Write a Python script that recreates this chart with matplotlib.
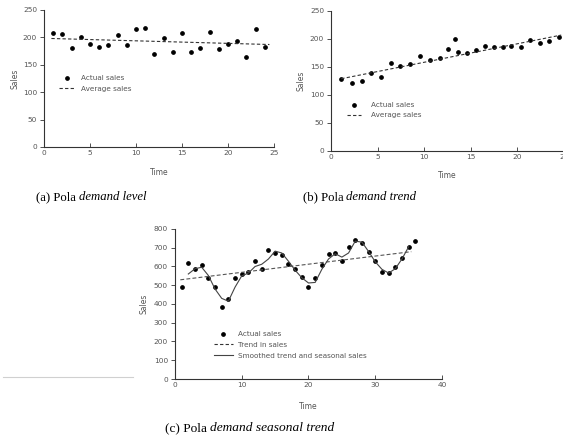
import numpy as np
import matplotlib.pyplot as plt
from matplotlib.lines import Line2D

# (a) demand level
t_a = np.arange(1, 25)
sales_a = [208, 206, 180, 201, 188, 183, 186, 204, 187, 215, 218, 169,
           198, 173, 208, 173, 180, 210, 178, 188, 194, 164, 215, 183]
avg_a_t = [0.8, 24.5]
avg_a = [198, 187]

# (b) demand trend
t_b = [1.1, 2.3, 3.3, 4.3, 5.4, 6.4, 7.4, 8.5, 9.6, 10.6, 11.7, 12.6, 13.3,
       13.6, 14.6, 15.6, 16.5, 17.5, 18.5, 19.3, 20.4, 21.4, 22.4, 23.4, 24.5]
sales_b = [128, 122, 125, 139, 133, 158, 152, 155, 170, 162, 166, 182, 200,
           176, 175, 181, 188, 185, 186, 187, 185, 198, 192, 196, 203]
avg_b_t = [1.1, 24.7]
avg_b = [129, 207]

# (c) seasonal trend
t_c = np.arange(1, 37)
sales_c = [493, 619, 587, 608, 537, 490, 385, 424, 537, 559, 568, 631,
           587, 688, 672, 663, 614, 589, 545, 488, 537, 608, 667, 674,
           630, 706, 741, 726, 678, 628, 573, 564, 598, 646, 702, 738]
trend_c_t = [0.8, 35.4]
trend_c = [529, 679]
smooth_t = np.arange(2, 36)
smooth_c = [560, 588, 596, 552, 480, 430, 415, 490, 550, 565, 600, 612,
            640, 682, 672, 628, 580, 540, 512, 515, 585, 640, 668, 650,
            672, 735, 730, 680, 625, 585, 565, 588, 640, 705]

TICK = '#555555'

fig = plt.figure(figsize=(5.63, 4.38), dpi=100)


def style_axes(ax, xlim, ylim, xticks, yticks, sales_x, time_y):
    ax.set_xlim(*xlim)
    ax.set_ylim(*ylim)
    ax.set_xticks(xticks)
    ax.set_yticks(yticks)
    for s in ['top', 'right']:
        ax.spines[s].set_visible(False)
    for s in ['left', 'bottom']:
        ax.spines[s].set_color('#333333')
        ax.spines[s].set_linewidth(0.8)
    ax.tick_params(axis='y', direction='out', length=3, width=0.6,
                   colors='#333333', labelcolor=TICK, labelsize=5.3, pad=2)
    ax.tick_params(axis='x', direction='in', length=3, width=0.6,
                   colors='#333333', labelcolor=TICK, labelsize=5.3, pad=2)
    ax.set_ylabel('Sales', fontsize=5.5, color=TICK)
    ax.set_xlabel('Time', fontsize=5.5, color=TICK)
    ax.yaxis.set_label_coords(sales_x, 0.5)
    ax.xaxis.set_label_coords(0.5, time_y)
    ax.patch.set_alpha(0)


def add_legend(ax, handles, labels, anchor, hlen, tpad, spacing):
    ax.legend(handles, labels, loc='upper left', bbox_to_anchor=anchor,
              frameon=False, fontsize=5.2, labelcolor=TICK, borderpad=0,
              borderaxespad=0, handlelength=hlen, handletextpad=tpad,
              labelspacing=spacing)


def caption(x, y, plain, italic, size):
    t = fig.text(x / 563, 1 - y / 438, plain, family='Liberation Serif',
                 fontsize=size, va='center', ha='left')
    fig.canvas.draw()
    bb = t.get_window_extent()
    fig.text(bb.x1 / fig.bbox.width + 0.005, 1 - y / 438, italic,
             family='Liberation Serif', style='italic', fontsize=size,
             va='center', ha='left')


dot = dict(marker='o', color='black', markersize=2.4, linestyle='none')
dash = dict(color='#333333', linewidth=0.8, dashes=(3, 2))
solid = dict(color='#444444', linewidth=0.8)

# panel (a)
ax_a = fig.add_axes([0.0782, 0.6644, 0.4085, 0.3128])
ax_a.plot(t_a, sales_a, **dot)
ax_a.plot(avg_a_t, avg_a, **dash)
style_axes(ax_a, (0, 25), (0, 250), range(0, 26, 5), range(0, 251, 50), -0.108, -0.15)
add_legend(ax_a, [Line2D([], [], **dot), Line2D([], [], **dash)],
           ['Actual sales', 'Average sales'], (0.064, 0.524), 2.2, 0.9, 0.6)

# panel (b)
ax_b = fig.add_axes([0.5879, 0.6553, 0.4139, 0.3196])
ax_b.plot(t_b, sales_b, **dot)
ax_b.plot(avg_b_t, avg_b, **dash)
style_axes(ax_b, (0, 25), (0, 250), range(0, 26, 5), range(0, 251, 50), -0.11, -0.145)
add_legend(ax_b, [Line2D([], [], **dot), Line2D([], [], **dash)],
           ['Actual sales', 'Average sales'], (0.068, 0.347), 2.0, 1.3, 0.55)

# panel (c)
ax_c = fig.add_axes([0.3108, 0.1347, 0.4743, 0.3425])
ax_c.plot(t_c, sales_c, **dot)
ax_c.plot(trend_c_t, trend_c, color='#555555', linewidth=0.8, dashes=(3.5, 2))
ax_c.plot(smooth_t, smooth_c, **solid)
style_axes(ax_c, (0, 40), (0, 800), range(0, 41, 10), range(0, 801, 100), -0.10, -0.15)
add_legend(ax_c, [Line2D([], [], **dot), Line2D([], [], **dash),
                  Line2D([], [], **solid)],
           ['Actual sales', 'Trend in sales', 'Smoothed trend and seasonal sales'],
           (0.146, 0.32), 2.6, 0.75, 0.65)

caption(36, 197, '(a) Pola', 'demand level', 9.2)
caption(303, 197, '(b) Pola', 'demand trend', 9.2)
caption(165, 428, '(c) Pola', 'demand seasonal trend', 9.6)

# faint rule left over from the scanned page
fig.add_artist(Line2D([3 / 563, 133 / 563], [0.14, 0.14], color='#d0d0d0',
                      linewidth=0.8, transform=fig.transFigure))

fig.savefig('out.png', dpi=100)
